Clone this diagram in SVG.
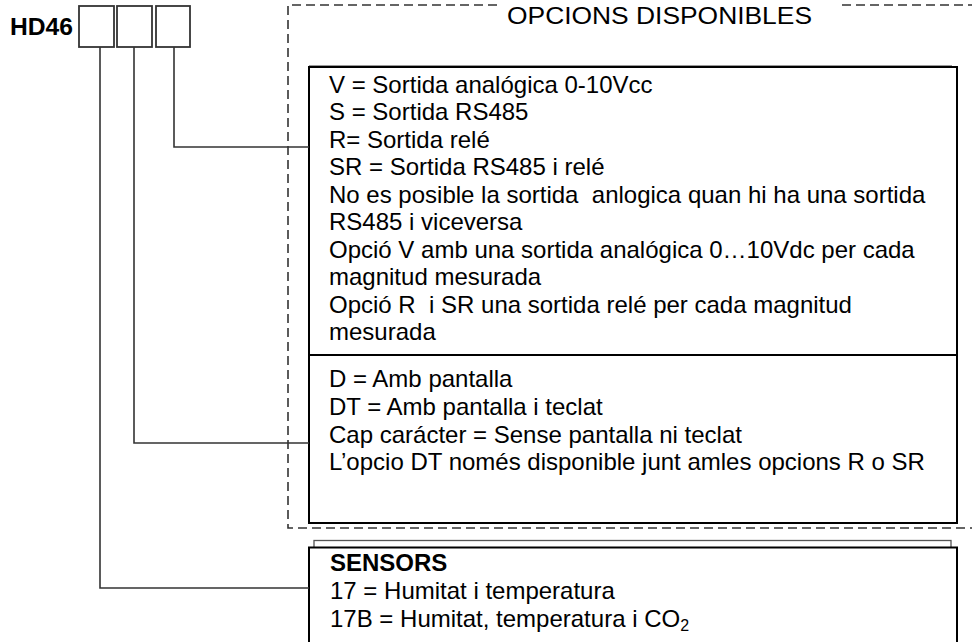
<svg xmlns="http://www.w3.org/2000/svg" width="972" height="642" viewBox="0 0 972 642">
<style>
  .t { font-family: "Liberation Sans", Arial, sans-serif; font-size: 24px; fill: #000; }
  .b { font-weight: bold; }
  .code { fill: #fff; stroke: #333; stroke-width: 1.8; }
  .wire { fill: none; stroke: #333; stroke-width: 1.6; }
  .dash { fill: none; stroke: #333; stroke-width: 1.6; stroke-dasharray: 9 5; }
  .box { fill: #fff; stroke: #000; stroke-width: 2; }
  .shadow { fill: #fff; stroke: #555; stroke-width: 1.3; }
</style>
<rect width="972" height="642" fill="#fff"/>

<g id="code">
  <text class="t b" x="10" y="35" font-size="31" textLength="63" lengthAdjust="spacingAndGlyphs">HD46</text>
  <rect class="code" x="79" y="6" width="35" height="41"/>
  <rect class="code" x="117" y="6" width="35" height="41"/>
  <rect class="code" x="156" y="6" width="34" height="41"/>
</g>

<g id="options-frame">
  <path class="dash" d="M497,5 H288 V528 H975 M842,5 H975"/>
  <text class="t" x="507" y="24" font-size="25" textLength="305" lengthAdjust="spacingAndGlyphs">OPCIONS DISPONIBLES</text>
</g>

<g id="outputs">
  <line x1="309" y1="65.5" x2="952" y2="65.5" stroke="#999" stroke-width="1"/>
  <rect class="box" x="309" y="67" width="648" height="456"/>
  <line x1="309" y1="355" x2="957" y2="355" stroke="#000" stroke-width="2"/>
  <text class="t" x="329">
    <tspan x="329" y="93">V = Sortida analógica 0-10Vcc</tspan>
    <tspan x="329" y="120.4">S = Sortida RS485</tspan>
    <tspan x="329" y="147.9">R= Sortida relé</tspan>
    <tspan x="329" y="175.3">SR = Sortida RS485 i relé</tspan>
    <tspan x="329" y="202.8" xml:space="preserve">No es posible la sortida  anlogica quan hi ha una sortida</tspan>
    <tspan x="329" y="230.2">RS485 i viceversa</tspan>
    <tspan x="329" y="257.7">Opció V amb una sortida analógica 0…10Vdc per cada</tspan>
    <tspan x="329" y="285.1">magnitud mesurada</tspan>
    <tspan x="329" y="312.5" xml:space="preserve">Opció R  i SR una sortida relé per cada magnitud</tspan>
    <tspan x="329" y="340">mesurada</tspan>
  </text>
</g>

<g id="display">
  <text class="t" x="329">
    <tspan x="329" y="387">D = Amb pantalla</tspan>
    <tspan x="329" y="415">DT = Amb pantalla i teclat</tspan>
    <tspan x="329" y="442.5">Cap carácter = Sense pantalla ni teclat</tspan>
    <tspan x="329" y="470">L’opcio DT només disponible junt amles opcions R o SR</tspan>
  </text>
</g>

<g id="sensors">
  <rect class="shadow" x="314" y="540.5" width="637" height="20"/>
  <rect class="box" x="309" y="547.5" width="648" height="110"/>
  <text class="t b" x="330" y="571">SENSORS</text>
  <text class="t" x="330" y="599">17 = Humitat i temperatura</text>
  <text class="t" x="330" y="627">17B = Humitat, temperatura i CO<tspan font-size="16" dy="4">2</tspan></text>
</g>

<g id="connectors">
  <path class="wire" d="M174,47 V147 H309"/>
  <path class="wire" d="M134,47 V443 H309"/>
  <path class="wire" d="M100,47 V588 H309"/>
</g>
</svg>
